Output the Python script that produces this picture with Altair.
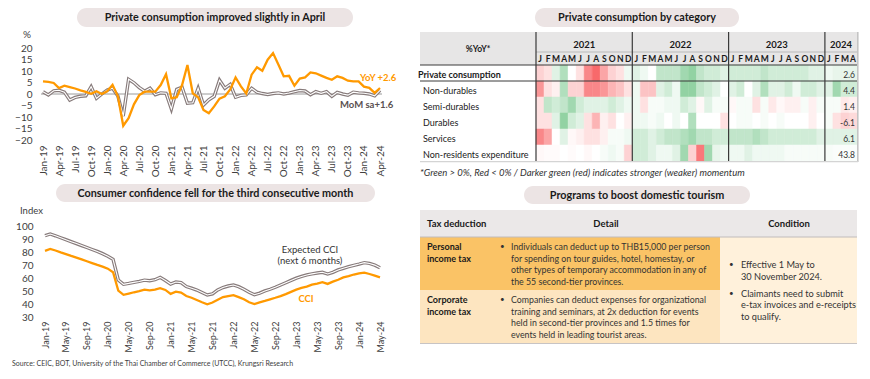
import json
import altair as alt
import pandas as pd

FONT = "Lato"
ORANGE = "#ff9900"
GRAY_OUT = "#877b7b"
TXT = "#404040"
PILL = "#ece4e4"

# ---------------- Panel 1: private consumption (Jan-19 .. Apr-24) ----------------
pc_ticks = ["Jan-19", "Apr-19", "Jul-19", "Oct-19", "Jan-20", "Apr-20", "Jul-20", "Oct-20",
            "Jan-21", "Apr-21", "Jul-21", "Oct-21", "Jan-22", "Apr-22", "Jul-22", "Oct-22",
            "Jan-23", "Apr-23", "Jul-23", "Oct-23", "Jan-24", "Apr-24"]
pc_yoy = [5.5, 5.3, 4.8, 2.6, 3.6, 3.0, 2.4, 1.6, 0.9, 0.1, 1.2, 0.0,
          1.2, 4.0, -1.0, -13.8, -10.5, -4.5, -0.5, 1.0, 1.0, 1.0, 3.9, 8.6,
          -1.9, -1.4, 3.9, 12.6, 0.3, -1.4, -6.9, -8.4, -5.4, -2.0, -1.0, 2.0,
          7.2, 3.3, 0.2, 8.4, 11.6, 10.1, 14.9, 17.8, 12.8, 7.7, 7.9, 3.6,
          6.7, 7.2, 9.4, 9.0, 8.0, 7.0, 6.2, 7.7, 7.0, 5.8, 5.5, 5.5,
          3.2, 2.7, 0.5, 2.6]
pc_mom = [1.0, -0.4, 1.4, 1.6, 0.8, -2.6, -1.5, -1.0, -0.8, 3.2, -1.9, 0.0,
          1.7, 2.5, -0.9, -9.6, 6.4, 4.9, 2.8, 1.2, 2.5, -0.3, 0.5, 0.3,
          -6.5, 2.0, 2.9, -4.0, -3.8, 2.5, -4.8, -2.5, -1.0, 6.0, 2.5, 4.2,
          -1.4, -0.6, -0.4, 2.5, 0.8, 0.2, -0.2, 0.2, 0.5, 0.0, 0.4, 1.0,
          1.5, 1.3, -0.3, 1.0, 0.3, 1.0, -1.0, 0.7, 0.0, -0.5, 0.8, 0.5,
          0.3, 0.0, -0.8, 1.6]
pc_yticks = [-20, -15, -10, -5, 0, 5, 10, 15, 20]

# ---------------- Panel 2: consumer confidence (Jan-19 .. May-24) ----------------
cc_ticks = ["Jan-19", "May-19", "Sep-19", "Jan-20", "May-20", "Sep-20", "Jan-21", "May-21",
            "Sep-21", "Jan-22", "May-22", "Sep-22", "Jan-23", "May-23", "Sep-23", "Jan-24", "May-24"]
cci = [80.9, 82.4, 81.2, 79.8, 78.5, 77.1, 75.8, 74.4, 73.0, 71.6, 70.2, 68.9,
       67.3, 64.5, 50.5, 47.2, 48.2, 49.2, 50.0, 51.2, 50.6, 51.2, 52.4, 51.0,
       48.0, 49.6, 48.9, 46.3, 45.0, 43.3, 41.5, 39.9, 41.3, 43.5, 45.5, 46.3,
       47.0, 45.5, 43.8, 41.5, 40.2, 41.5, 42.6, 43.8, 45.0, 46.3, 47.8, 49.5,
       51.2, 52.5, 53.5, 55.0, 55.8, 57.0, 55.6, 57.3, 58.8, 60.6, 61.6, 62.8,
       63.6, 64.2, 63.2, 62.0, 60.6]
ecci = [92.6, 93.9, 92.5, 91.0, 89.5, 88.0, 86.5, 85.0, 83.5, 82.0, 80.5, 78.8,
        76.8, 74.5, 58.6, 55.3, 56.0, 56.8, 57.5, 58.5, 58.0, 58.8, 60.6, 58.2,
        55.5, 57.1, 56.6, 53.6, 52.3, 50.9, 49.0, 47.1, 48.0, 51.0, 52.8, 54.0,
        54.8, 53.5, 51.5, 49.2, 47.3, 48.5, 50.2, 51.5, 53.0, 54.8, 56.5, 58.3,
        60.0, 61.3, 62.5, 63.3, 64.0, 64.5, 63.2, 64.5, 66.3, 67.6, 68.8, 69.8,
        70.8, 71.9, 71.3, 70.0, 68.0]
cc_yticks = [30, 40, 50, 60, 70, 80, 90, 100]

# ---------------- Panel 3: heatmap by category ----------------
hm_rows = ["Private consumption", "Non-durables", "Semi-durables", "Durables", "Services",
           "Non-residents expenditure"]
hm_years = ["2021", "2022", "2023", "2024"]
hm_year_months = [12, 12, 12, 4]
hm_letters = ["J", "F", "M", "A", "M", "J", "J", "A", "S", "O", "N", "D"]
hm_latest = ["2.6", "4.4", "1.4", "-6.1", "6.1", "43.8"]
hm_private = [-3, -2, 2, 5, 0, -2, -8, -10, -6, -3, -2, 1,
              2, 1, 0, 4, 4, 4, 6, 7, 4, 3, 3, 2,
              3, 3, 3, 3, 4, 3, 3, 3, 3, 3, 2, 2,
              1, 1.5, 1.5, 1.5]
hm_nondur = [-7, -2, -1, 5, -3, -3, -8, -8, -7, -5, -4, -2,
             1, -4, -4, 2, 3, 1, 7, 7, 4, 3, 2, 0,
             2, 3, 0, 2, 5, 2, 2, 3, 1, 3, 3, 2,
             2, 6, 3, 3]
hm_semidur = [-2, 4, 3, 4, 6, 3, 2, 2, 2, 3, 2, 1,
              1, -2, 0.5, 0.5, 1, 1, 3, 2, -0.5, 2, 0.5, 0.5,
              -0.5, 0.5, 0.5, -2, 0.5, -1.5, -0.5, -1, -1, 0.5, -1, 0.5,
              0.5, 0.5, -1.5, -1]
hm_durables = [-2, -2, 2, 7, 3, 2, -2, -5, -1, -2, 0, -1,
               1, 1, 0.5, 1, 0, 1, 0, 5, 0, 0, 0, -2,
               0, 0.5, 0.5, 0, 0.5, 0, 0.5, 0, 0, 0, -1, 0,
               0.5, -2, -3, -2.5]
hm_services = [-8, -6, 0, 2, -0.5, -1, -2, -2, -1, 0.5, 0.5, 1,
               3, 3, 2, 3, 4, 4, 5, 6, 4, 4, 3, 3,
               4, 4, 4, 5, 4, 3, 3, 3, 3, 3, 3, 2,
               2, 2, 2, 2]
hm_nonres = [-0.5, -0.3, -0.3, 0, -0.3, 0, -0.5, 0, 0.5, 1, 0.5, -3,
             3, 3, 2, 1, 1, 2, 6, -3, -9, 6, 1.5, 1,
             1, 1, 2, 1, 1, 1, 1, 0.5, 0.5, 0.5, 0.5, 0.5,
             0.5, 0.3, 0.3, 0.3]
hm_values = [hm_private, hm_nondur, hm_semidur, hm_durables, hm_services, hm_nonres]

# ---------------- Panel 4: tourism table ----------------
tb_headers = ["Tax deduction", "Detail", "Condition"]
tb_types = [["Personal", "income tax"], ["Corporate", "income tax"]]
tb_details = [["Individuals can deduct up to THB15,000 per person",
               "for spending on tour guides, hotel, homestay, or",
               "other types of temporary accommodation in any of",
               "the 55 second-tier provinces."],
              ["Companies can deduct expenses for organizational",
               "training and seminars, at 2x deduction for events",
               "held in second-tier provinces and 1.5 times for",
               "events held in leading tourist areas."]]
tb_conditions = [["Effective 1 May to", "30 November 2024."],
                 ["Claimants need to submit", "e-tax invoices and e-receipts", "to qualify."]]

titles = ["Private consumption improved slightly in April",
          "Private consumption by category",
          "Consumer confidence fell for the third consecutive month",
          "Programs to boost domestic tourism"]
source = "Source: CEIC, BOT, University of the Thai Chamber of Commerce (UTCC), Krungsri Research"
footnote = "*Green > 0%, Red < 0% / Darker green (red) indicates stronger (weaker) momentum"

one = pd.DataFrame({"k": [0]})


def pill(x1, x2, y1, y2, title):
    rect = alt.Chart(one).mark_rect(color=PILL, cornerRadius=(y2 - y1) / 2).encode(
        x=alt.value(x1), x2=alt.value(x2), y=alt.value(y1), y2=alt.value(y2))
    txt = alt.Chart(one).mark_text(text=title, fontWeight="bold", fontSize=10.8, color="#1a1a1a",
                                   align="center", baseline="middle").encode(
        x=alt.value((x1 + x2) / 2), y=alt.value((y1 + y2) / 2 + 0.5))
    return [rect, txt]


def label(text, x, y, size=9, weight="normal", color=TXT, align="left", style="normal",
          line_height=None):
    kw = dict(text=text, fontSize=size, fontWeight=weight, color=color, align=align,
              baseline="middle", fontStyle=style)
    if line_height is not None:
        kw["lineHeight"] = line_height
    return alt.Chart(one).mark_text(**kw).encode(x=alt.value(x), y=alt.value(y))


# ---- Panel 1 chart ----
df1 = pd.DataFrame({"i": list(range(len(pc_yoy))), "yoy": pc_yoy, "mom": pc_mom})
xs1 = alt.Scale(domain=[0, 63], range=[2, 339], nice=False, zero=False)
ys1 = alt.Scale(domain=[-20, 20], range=[108, 16], nice=False, zero=False)
ax1 = alt.Axis(values=list(range(0, 64, 3)), labelExpr=json.dumps(pc_ticks) + "[round(datum.value/3)]",
               labelAngle=-90, ticks=False, domain=False, grid=False, labelFontSize=10,
               labelColor=TXT, labelPadding=4, labelOverlap=False, labelFlush=False, title=None)
ay1 = alt.Axis(values=pc_yticks, ticks=False, domain=False, grid=False, labelFontSize=10,
               labelColor=TXT, labelPadding=9, title=None)
X1 = alt.X("i:Q", scale=xs1, axis=ax1)
zero_df = pd.DataFrame({"z": [0]})
p1 = [
    alt.Chart(one).mark_rule(opacity=0).encode(x=alt.value(-33), y=alt.value(0), y2=alt.value(1)),
    *pill(36, 312, -24, -5, titles[0]),
    alt.Chart(zero_df).mark_rule(color="#9a9a9a", strokeWidth=1).encode(
        y=alt.Y("z:Q", scale=ys1, axis=ay1), x=alt.value(0), x2=alt.value(341)),
    alt.Chart(df1).mark_line(color=GRAY_OUT, strokeWidth=3.4).encode(
        x=X1, y=alt.Y("mom:Q", scale=ys1, axis=ay1)),
    alt.Chart(df1).mark_line(color="white", strokeWidth=1.1).encode(
        x=X1, y=alt.Y("mom:Q", scale=ys1, axis=ay1)),
    alt.Chart(df1).mark_line(color=ORANGE, strokeWidth=2.3).encode(
        x=X1, y=alt.Y("yoy:Q", scale=ys1, axis=ay1)),
    label("%", -18, 3, size=10),
    label("YoY +2.6", 319, 46, size=9.5, weight="bold", color=ORANGE),
    label("MoM sa+1.6", 299, 73, size=9.5, weight="bold", color="#5a5050"),
]
top_left = alt.layer(*p1).properties(width=340, height=109)

# ---- Panel 2 chart ----
df2 = pd.DataFrame({"i": list(range(len(cci))), "cci": cci, "ecci": ecci})
xs2 = alt.Scale(domain=[0, 64], range=[4, 339], nice=False, zero=False)
ys2 = alt.Scale(domain=[30, 100], range=[107.3, 16], nice=False, zero=False)
ax2 = alt.Axis(values=list(range(0, 65, 4)), labelExpr=json.dumps(cc_ticks) + "[round(datum.value/4)]",
               labelAngle=-90, ticks=False, domain=False, grid=False, labelFontSize=9,
               labelColor=TXT, labelPadding=3, labelOverlap=False, labelFlush=False, title=None)
ay2 = alt.Axis(values=cc_yticks, ticks=False, domain=False, grid=False, labelFontSize=10,
               labelColor=TXT, labelPadding=8, title=None)
X2 = alt.X("i:Q", scale=xs2, axis=ax2)
p2 = [
    *pill(15, 334, -26, -8, titles[2]),
    alt.Chart(df2).mark_line(color=GRAY_OUT, strokeWidth=3.4).encode(
        x=X2, y=alt.Y("ecci:Q", scale=ys2, axis=ay2)),
    alt.Chart(df2).mark_line(color="white", strokeWidth=1.1).encode(
        x=X2, y=alt.Y("ecci:Q", scale=ys2, axis=ay2)),
    alt.Chart(df2).mark_line(color=ORANGE, strokeWidth=2.3).encode(
        x=X2, y=alt.Y("cci:Q", scale=ys2, axis=ay2)),
    label("Index", -21, 1, size=9.5),
    label("Expected CCI", 269, 39.5, size=9.5, align="center", color="#333333"),
    label("(next 6 months)", 269, 50.8, size=9.5, align="center", color="#333333"),
    label("CCI", 265, 89, size=9.5, weight="bold", color=ORANGE, align="center"),
    label(source, -29, 154, size=7, color="#404040"),
]
bottom_left = alt.layer(*p2).properties(width=340, height=108)

# ---- Panel 3 heatmap ----
recs = []
for r, row_vals in enumerate(hm_values):
    for c, v in enumerate(row_vals):
        recs.append({"r": r, "r2": r + 1, "c": c, "c2": c + 1, "v": v})
cells = pd.DataFrame(recs)
XS = alt.Scale(domain=[0, 40], range=[116, 437], nice=False, zero=False)
YS = alt.Scale(domain=[0, 6], range=[33, 129], nice=False, zero=False)
CS = alt.Scale(domain=[-10, 0, 10], range=["#f8696b", "#ffffff", "#63be7b"], clamp=True,
               interpolate="rgb")

letters = []
start = 0
years = []
for y, n in zip(hm_years, hm_year_months):
    for k in range(n):
        letters.append({"cc": start + k + 0.5, "t": hm_letters[k]})
    years.append({"cc": start + n / 2, "t": y})
    start += n
letters_df = pd.DataFrame(letters)
years_df = pd.DataFrame(years)
rows_df = pd.DataFrame({"rc": [i + 0.5 for i in range(len(hm_rows))], "t": hm_rows,
                        "val": hm_latest})
sep_df = pd.DataFrame({"c": [0, 12, 24, 36]})
hl_df = pd.DataFrame({"r": [0, 1]})

p3 = [
    *pill(115, 319, -24, -5, titles[1]),
    alt.Chart(one).mark_rect(color="#e7e6e6").encode(
        x=alt.value(0), x2=alt.value(437), y=alt.value(0), y2=alt.value(33)),
    alt.Chart(cells).mark_rect(strokeWidth=0.5).encode(
        x=alt.X("c:Q", scale=XS, axis=None), x2="c2:Q",
        y=alt.Y("r:Q", scale=YS, axis=None), y2="r2:Q",
        color=alt.Color("v:Q", scale=CS, legend=None),
        stroke=alt.Stroke("v:Q", scale=CS, legend=None)),
    alt.Chart(one).mark_rule(color="#a8a8a8", strokeWidth=0.7).encode(
        x=alt.value(116), x2=alt.value(437), y=alt.value(20)),
    alt.Chart(hl_df).mark_rule(color="#3a3a3a", strokeWidth=1).encode(
        y=alt.Y("r:Q", scale=YS, axis=None), x=alt.value(0), x2=alt.value(437)),
    alt.Chart(sep_df).mark_rule(color="#3a3a3a", strokeWidth=1.2).encode(
        x=alt.X("c:Q", scale=XS, axis=None), y=alt.value(0), y2=alt.value(129)),
    alt.Chart(one).mark_rule(color="#c4c4c4", strokeWidth=1.6).encode(
        x=alt.value(437.8), y=alt.value(0), y2=alt.value(130)),
    alt.Chart(one).mark_rule(color="#d4d4d4", strokeWidth=1.2).encode(
        x=alt.value(0), x2=alt.value(438), y=alt.value(129.6)),
    alt.Chart(years_df).mark_text(fontSize=9.5, fontWeight="bold", color="#1a1a1a",
                                  baseline="middle").encode(
        x=alt.X("cc:Q", scale=XS, axis=None), y=alt.value(13), text="t:N"),
    alt.Chart(letters_df).mark_text(fontSize=8.5, fontWeight="bold", color="#1a1a1a",
                                    baseline="middle").encode(
        x=alt.X("cc:Q", scale=XS, axis=None), y=alt.value(27), text="t:N"),
    label("%YoY*", 58, 17, size=8.5, weight="bold", color="#1a1a1a", align="center"),
    alt.Chart(rows_df.iloc[:1]).mark_text(fontSize=9, fontWeight="bold", color="#1a1a1a",
                                          align="left", baseline="middle", dy=2).encode(
        x=alt.value(-2), y=alt.Y("rc:Q", scale=YS, axis=None), text="t:N"),
    alt.Chart(rows_df.iloc[1:]).mark_text(fontSize=9, color="#1a1a1a",
                                          align="left", baseline="middle", dy=2).encode(
        x=alt.value(3), y=alt.Y("rc:Q", scale=YS, axis=None), text="t:N"),
    alt.Chart(rows_df).mark_text(fontSize=8.5, color="#333333", align="right",
                                 baseline="middle", dy=1.5).encode(
        x=alt.value(435), y=alt.Y("rc:Q", scale=YS, axis=None), text="val:N"),
    label(footnote, 0, 140.7, size=9.5, style="italic", color="#333333"),
]
heat = alt.layer(*p3).properties(width=437, height=129)

# ---- Panel 4 table ----
LH = 11.5
p4 = [
    *pill(104, 330, -24, -6, titles[3]),
    alt.Chart(one).mark_rect(color="#ebe8e8").encode(
        x=alt.value(0), x2=alt.value(437), y=alt.value(0), y2=alt.value(27)),
    alt.Chart(one).mark_rect(color="#fac366").encode(
        x=alt.value(0), x2=alt.value(300), y=alt.value(27), y2=alt.value(80)),
    alt.Chart(one).mark_rect(color="#fde5c0").encode(
        x=alt.value(0), x2=alt.value(300), y=alt.value(80), y2=alt.value(133)),
    alt.Chart(one).mark_rect(color="#fff1db").encode(
        x=alt.value(300), x2=alt.value(437), y=alt.value(27), y2=alt.value(133)),
    alt.Chart(one).mark_rule(color="#c0bcbc", strokeWidth=1).encode(
        x=alt.value(0), x2=alt.value(437), y=alt.value(27)),
    alt.Chart(one).mark_rule(color="#c8c4c4", strokeWidth=1.2).encode(
        x=alt.value(0), x2=alt.value(437), y=alt.value(133.5)),
    label(tb_headers[0], 7, 14, size=9.5, weight="bold", color="#1a1a1a"),
    label(tb_headers[1], 186, 14, size=9.5, weight="bold", color="#1a1a1a", align="center"),
    label(tb_headers[2], 369, 14, size=9.5, weight="bold", color="#1a1a1a", align="center"),
    label(tb_types[0], 7, 37, size=9, weight="bold", color="#1a1a1a", line_height=LH),
    label(tb_types[1], 7, 90, size=9, weight="bold", color="#1a1a1a", line_height=LH),
    label("•", 80, 37, size=8, color="#333333"),
    label("•", 80, 90, size=8, color="#333333"),
    label(tb_details[0], 91, 37, size=8.8, color="#333333", line_height=LH),
    label(tb_details[1], 91, 90, size=8.8, color="#333333", line_height=LH),
    label("•", 309, 55, size=8, color="#333333"),
    label("•", 309, 83.7, size=8, color="#333333"),
    label(tb_conditions[0], 321, 55, size=9.2, color="#333333", line_height=LH),
    label(tb_conditions[1], 321, 83.7, size=9.2, color="#333333", line_height=LH),
]
table = alt.layer(*p4).properties(width=437, height=133)

chart = alt.concat(top_left, heat, bottom_left, table, columns=2,
                   spacing={"row": 49, "column": 39}, bounds="flush", align="each").properties(
    padding=0, background="white").configure(font=FONT).configure_view(stroke=None)

chart.save("out.html", embed_options={"renderer": "svg", "actions": False})
